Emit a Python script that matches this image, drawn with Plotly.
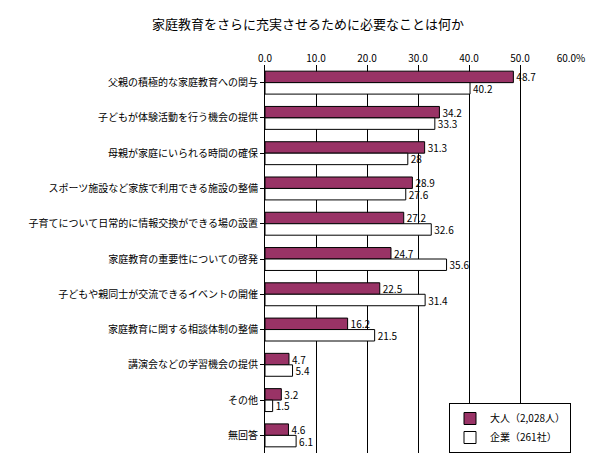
import plotly.graph_objects as go

categories = ["父親の積極的な家庭教育への関与","子どもが体験活動を行う機会の提供","母親が家庭にいられる時間の確保",
 "スポーツ施設など家族で利用できる施設の整備","子育てについて日常的に情報交換ができる場の設置","家庭教育の重要性についての啓発",
 "子どもや親同士が交流できるイベントの開催","家庭教育に関する相談体制の整備","講演会などの学習機会の提供","その他","無回答"]
adults = [48.7,34.2,31.3,28.9,27.2,24.7,22.5,16.2,4.7,3.2,4.6]
companies = [40.2,33.3,28,27.6,32.6,35.6,31.4,21.5,5.4,1.5,6.1]
ticks = [0,10,20,30,40,50,60]
ticklabels = ["0.0","10.0","20.0","30.0","40.0","50.0","60.0%"]

font = "Noto Sans CJK JP"
fig = go.Figure()
fig.add_bar(y=categories, x=adults, orientation="h", name="大人（2,028人）",
            marker=dict(color="#993366", line=dict(color="black", width=1)),
            text=[f"{v:g}" for v in adults], textposition="outside", cliponaxis=False,
            constraintext="none", textfont=dict(size=10, color="black"))
fig.add_bar(y=categories, x=companies, orientation="h", name="企業（261社）",
            marker=dict(color="white", line=dict(color="black", width=1)),
            text=[f"{v:g}" for v in companies], textposition="outside", cliponaxis=False,
            constraintext="none", textfont=dict(size=10, color="black"))
fig.update_layout(
    width=600, height=460, barmode="group", bargap=0.35, bargroupgap=0,
    paper_bgcolor="white", plot_bgcolor="white",
    margin=dict(l=257, r=37, t=57, b=15),
    font=dict(family=font, size=10, color="black"),
    title=dict(text="家庭教育をさらに充実させるために必要なことは何か", x=0.5, xanchor="center", y=0.975, font=dict(size=13)),
    xaxis=dict(side="top", range=[0,60], tickvals=ticks, ticktext=ticklabels, showgrid=True,
               gridcolor="black", gridwidth=1, zeroline=False, showline=False, ticks=""),
    yaxis=dict(autorange="reversed", showline=True, linecolor="black", ticks="outside", ticklen=4,
               tickcolor="black", showgrid=False),
    legend=dict(x=1.0, y=0.0, xanchor="right", yanchor="bottom", bordercolor="black", borderwidth=1,
                bgcolor="white", font=dict(size=10), traceorder="normal", itemwidth=30,
                tracegroupgap=0),
)
fig.write_html("out.html")
